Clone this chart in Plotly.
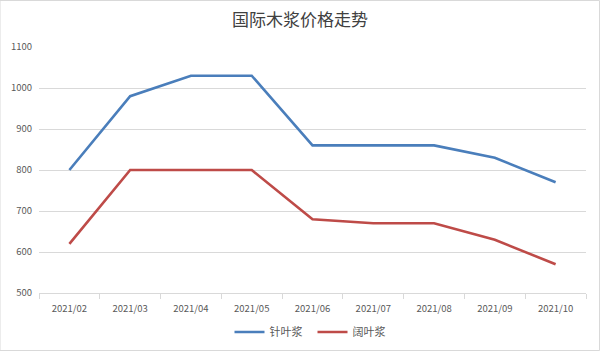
import plotly.graph_objects as go

months = ["2021/02", "2021/03", "2021/04", "2021/05", "2021/06", "2021/07", "2021/08", "2021/09", "2021/10"]
softwood = [800, 980, 1030, 1030, 860, 860, 860, 830, 770]
hardwood = [620, 800, 800, 800, 680, 670, 670, 630, 570]
y_ticks = [500, 600, 700, 800, 900, 1000, 1100]

font_family = "Noto Sans CJK SC, Noto Sans, sans-serif"

fig = go.Figure()
fig.add_trace(go.Scatter(x=months, y=softwood, mode="lines", name="针叶浆",
                         line=dict(color="#4a7ebb", width=2.6)))
fig.add_trace(go.Scatter(x=months, y=hardwood, mode="lines", name="阔叶浆",
                         line=dict(color="#be4b48", width=2.6)))

fig.update_layout(
    width=600, height=351,
    margin=dict(l=39, r=14, t=47, b=58, autoexpand=False),
    paper_bgcolor="white", plot_bgcolor="white",
    title=dict(text="国际木浆价格走势", x=0.5, xanchor="center", y=0.943, yanchor="middle",
               font=dict(family=font_family, size=17, color="#404040")),
    font=dict(family=font_family, color="#595959", size=10),
    showlegend=True,
    legend=dict(orientation="h", x=0.5, xanchor="center", yref="container", y=0.054, yanchor="middle",
                font=dict(size=11, color="#595959"), itemwidth=30,
                entrywidth=38, entrywidthmode="pixels"),
    xaxis=dict(type="category", range=[-0.5, 8.5], showgrid=False, showline=True,
               linecolor="#d9d9d9", linewidth=1,
               ticks="outside", tickson="boundaries", ticklen=5, tickcolor="#d9d9d9",
               ticklabelstandoff=7,
               tickfont=dict(size=9.5, color="#595959"), zeroline=False),
    yaxis=dict(range=[500, 1100], tickvals=y_ticks, showgrid=True, gridcolor="#d9d9d9",
               gridwidth=1, zeroline=False, showline=False, ticks="",
               ticklabelstandoff=6,
               tickfont=dict(size=9.5, color="#595959")),
    shapes=[dict(type="rect", xref="paper", yref="paper", x0=-39/547, x1=1+13.5/547,
                 y0=-57.5/246, y1=1+46.5/246, line=dict(color="#d9d9d9", width=1))],
)

fig.write_html("out.html")
